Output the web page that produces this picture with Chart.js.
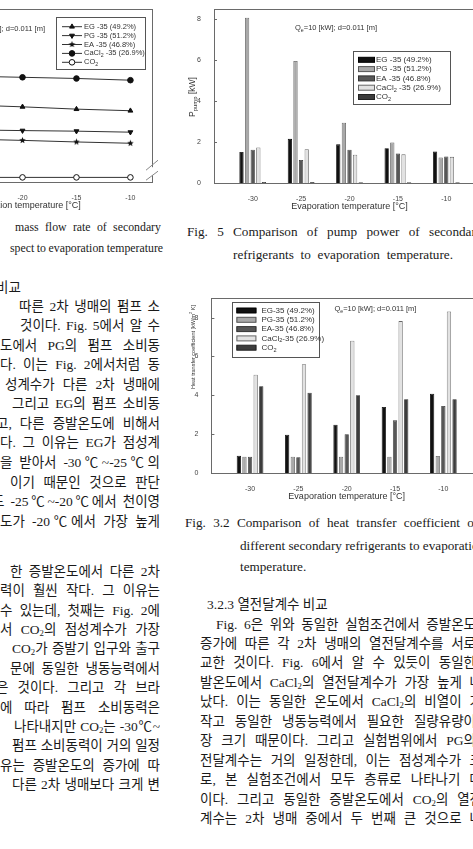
<!DOCTYPE html>
<html lang="ko">
<head>
  <meta charset="utf-8">
  <title>2차 냉매 비교</title>
  <script src="https://cdn.jsdelivr.net/npm/chart.js"></script>
  <style>
    html, body { margin: 0; padding: 0; background: #fff; }
    body {
      width: 473px; height: 849px; overflow: hidden; position: relative;
      font-family: "Liberation Serif", "Noto Sans CJK KR", serif; color: #1a1a1a;
    }
    .cv { position: absolute; }
    /* one printed line of the page */
    .ln {
      position: absolute; height: 18px; overflow: hidden;
      font-size: 13.5px; line-height: 18px;
      text-align: justify; text-align-last: justify; text-justify: inter-word;
    }
    .cap { position: absolute; white-space: nowrap; font-size: 13.2px; line-height: 18px; }
    sub { font-size: 0.65em; vertical-align: -0.2em; line-height: 0; }
  </style>
</head>
<body>

  <!-- charts -->
  <canvas id="massChart" class="cv" style="left:-170px; top:0px;"></canvas>
  <canvas id="pumpChart" class="cv" style="left:160px; top:0px;"></canvas>
  <canvas id="htcChart" class="cv" style="left:160px; top:289px;"></canvas>

  <!-- captions -->
  <div class="cap" style="left:15px; top:218px; font-size:11.8px; word-spacing:3.4px;">mass flow rate of secondary</div>
  <div class="cap" style="left:10px; top:239px; font-size:11.8px; word-spacing:-0.4px;">spect to evaporation temperature</div>
  <div class="cap" style="left:187px; top:223px; word-spacing:6px;">Fig. 5 Comparison of pump power of secondary</div>
  <div class="cap" style="left:233px; top:246px; word-spacing:3.5px;">refrigerants to evaporation temperature.</div>
  <div class="cap" style="left:185px; top:514px; word-spacing:4px;">Fig. 3.2 Comparison of heat transfer coefficient of</div>
  <div class="cap" style="left:240px; top:537px; word-spacing:0px;">different secondary refrigerants to evaporation</div>
  <div class="cap" style="left:240px; top:558px;">temperature.</div>

  <!-- left column -->
  <div class="ln" style="left:-4px; width:40px; top:279px; text-align-last:left;">비교</div>
  <div class="ln" style="left:19px; width:141px; top:298px;">따른 2차 냉매의 펌프 소</div>
  <div class="ln" style="left:20px; width:140px; top:317px;">것이다. Fig. 5에서 알 수</div>
  <div class="ln" style="left:0px; width:160px; top:337px;">도에서 PG의 펌프 소비동</div>
  <div class="ln" style="left:0px; width:160px; top:356px;">다. 이는 Fig. 2에서처럼 동</div>
  <div class="ln" style="left:5px; width:155px; top:376px;">성계수가 다른 2차 냉매에</div>
  <div class="ln" style="left:12px; width:148px; top:395px;">그리고 EG의 펌프 소비동</div>
  <div class="ln" style="left:-4px; width:164px; top:415px;">고, 다른 증발온도에 비해서</div>
  <div class="ln" style="left:0px; width:160px; top:434px;">다. 그 이유는 EG가 점성계</div>
  <div class="ln" style="left:0px; width:160px; top:454px;">을 받아서 -30℃~-25℃의</div>
  <div class="ln" style="left:10px; width:150px; top:474px;">이기 때문인 것으로 판단</div>
  <div class="ln" style="left:-8px; width:168px; top:493px;">도 -25℃~-20℃에서 천이영</div>
  <div class="ln" style="left:0px; width:160px; top:513px;">도가 -20℃에서 가장 높게</div>
  <div class="ln" style="left:10px; width:150px; top:563px;">한 증발온도에서 다른 2차</div>
  <div class="ln" style="left:0px; width:160px; top:582px;">력이 훨씬 작다. 그 이유는</div>
  <div class="ln" style="left:0px; width:160px; top:602px;">수 있는데, 첫째는 Fig. 2에</div>
  <div class="ln" style="left:0px; width:160px; top:621px;">서 CO<sub>2</sub>의 점성계수가 가장</div>
  <div class="ln" style="left:12px; width:148px; top:640px;">CO<sub>2</sub>가 증발기 입구와 출구</div>
  <div class="ln" style="left:10px; width:150px; top:660px;">문에 동일한 냉동능력에서</div>
  <div class="ln" style="left:-4px; width:164px; top:679px;">은 것이다. 그리고 각 브라</div>
  <div class="ln" style="left:0px; width:160px; top:699px;">에 따라 펌프 소비동력은</div>
  <div class="ln" style="left:14px; width:146px; top:718px;">나타내지만 CO<sub>2</sub>는 -30℃~</div>
  <div class="ln" style="left:12px; width:148px; top:737px;">펌프 소비동력이 거의 일정</div>
  <div class="ln" style="left:0px; width:160px; top:757px;">유는 증발온도의 증가에 따</div>
  <div class="ln" style="left:12px; width:148px; top:776px;">다른 2차 냉매보다 크게 변</div>

  <!-- right column -->
  <div class="ln" style="left:207px; width:200px; top:596px; text-align-last:left;">3.2.3 열전달계수 비교</div>
  <div class="ln" style="left:216px; width:260px; top:616px;">Fig. 6은 위와 동일한 실험조건에서 증발온도</div>
  <div class="ln" style="left:200px; width:276px; top:635px;">증가에 따른 각 2차 냉매의 열전달계수를 서로</div>
  <div class="ln" style="left:200px; width:276px; top:654px;">교한 것이다. Fig. 6에서 알 수 있듯이 동일한</div>
  <div class="ln" style="left:200px; width:282px; top:674px;">발온도에서 CaCl<sub>2</sub>의 열전달계수가 가장 높게 나</div>
  <div class="ln" style="left:200px; width:282px; top:693px;">났다. 이는 동일한 온도에서 CaCl<sub>2</sub>의 비열이 가</div>
  <div class="ln" style="left:200px; width:276px; top:713px;">작고 동일한 냉동능력에서 필요한 질량유량이</div>
  <div class="ln" style="left:200px; width:276px; top:732px;">장 크기 때문이다. 그리고 실험범위에서 PG의</div>
  <div class="ln" style="left:200px; width:282px; top:752px;">전달계수는 거의 일정한데, 이는 점성계수가 크</div>
  <div class="ln" style="left:200px; width:282px; top:771px;">로, 본 실험조건에서 모두 층류로 나타나기 때</div>
  <div class="ln" style="left:200px; width:282px; top:791px;">이다. 그리고 동일한 증발온도에서 CO<sub>2</sub>의 열전</div>
  <div class="ln" style="left:200px; width:282px; top:810px;">계수는 2차 냉매 중에서 두 번째 큰 것으로 나</div>

  <script>
    // ---- data ----
    const temps = [-30, -25, -20, -15, -10];
    const xTicks = [-30, -25, -20, -15, -10];

    // mass flow rate (left figure, only partly on the page)
    const massEG    = [0.550, 0.535, 0.522, 0.506, 0.495];
    const massPG    = [0.366, 0.362, 0.357, 0.353, 0.346];
    const massEA    = [0.306, 0.298, 0.289, 0.278, 0.269];
    const massCaCl2 = [0.742, 0.735, 0.727, 0.719, 0.707];
    const massCO2   = [0.032, 0.032, 0.032, 0.032, 0.032];

    // Fig. 5 pump power [kW]
    const pumpTicks = [0, 2, 4, 6, 8];
    const pumpEG    = [1.52, 2.16, 1.89, 1.70, 1.54];
    const pumpPG    = [8.08, 5.97, 2.95, 1.98, 1.25];
    const pumpEA    = [1.63, 1.13, 1.63, 1.44, 1.30];
    const pumpCaCl2 = [1.74, 1.65, 1.38, 1.40, 1.28];
    const pumpCO2   = [0.05, 0.05, 0.04, 0.04, 0.04];

    // Fig. 3.2 heat transfer coefficient [kW/m2 K]
    const htcTicks = [0, 2, 4, 6, 8];
    const htcEG    = [0.89, 1.97, 2.49, 3.40, 4.08];
    const htcPG    = [0.84, 0.84, 0.84, 0.84, 0.88];
    const htcEA    = [0.84, 0.81, 2.00, 2.71, 3.45];
    const htcCaCl2 = [5.06, 5.60, 6.81, 7.82, 8.32];
    const htcCO2   = [4.47, 4.13, 4.00, 3.80, 3.80];

    // legend labels (_{..} = subscript, ^{..} = superscript)
    const labelsA = ['EG -35 (49.2%)', 'PG -35 (51.2%)', 'EA -35 (46.8%)', 'CaCl_{2} -35 (26.9%)', 'CO_{2}'];
    const labelsC = ['EG-35 (49.2%)', 'PG-35 (51.2%)', 'EA-35 (46.8%)', 'CaCl_{2}-35 (26.9%)', 'CO_{2}'];
    const noteText = 'Q_{e}=10 [kW]; d=0.011 [m]';

    const SANS = '"Liberation Sans", Arial, sans-serif';
    const pts = vals => temps.map((t, i) => ({ x: t, y: vals[i] }));

    // split "CaCl_{2}" into drawable pieces
    function parseRich(s) {
      const out = []; const re = /([_^])\{([^}]*)\}/g; let last = 0, m;
      while ((m = re.exec(s))) {
        if (m.index > last) out.push([s.slice(last, m.index), null]);
        out.push([m[2], m[1] === '_' ? 'sub' : 'sup']);
        last = re.lastIndex;
      }
      if (last < s.length) out.push([s.slice(last), null]);
      return out;
    }
    function richWidth(ctx, s, size) {
      let w = 0;
      for (const [t, mode] of parseRich(s)) {
        ctx.font = (mode ? size * 0.7 : size) + 'px ' + SANS;
        w += ctx.measureText(t).width;
      }
      return w;
    }
    function richText(ctx, s, x, y, size) {
      let cx = x;
      ctx.textBaseline = 'middle'; ctx.textAlign = 'left';
      for (const [t, mode] of parseRich(s)) {
        ctx.font = (mode ? size * 0.7 : size) + 'px ' + SANS;
        const dy = mode === 'sub' ? size * 0.3 : mode === 'sup' ? -size * 0.35 : 0;
        ctx.fillText(t, cx, y + dy);
        cx += ctx.measureText(t).width;
      }
    }

    // small filled star used as a point marker
    function starImage(r) {
      const c = document.createElement('canvas');
      const s = Math.ceil(r * 2 + 2); c.width = s; c.height = s;
      const g = c.getContext('2d');
      g.fillStyle = '#111'; g.beginPath();
      for (let i = 0; i < 10; i++) {
        const rr = i % 2 ? r * 0.45 : r, ang = -Math.PI / 2 + i * Math.PI / 5;
        g.lineTo(s / 2 + rr * Math.cos(ang), s / 2 + rr * Math.sin(ang));
      }
      g.closePath(); g.fill();
      return c;
    }

    // frame, inner ticks, boxed legend, note and y title
    const paperPlugin = {
      id: 'paper',
      afterDatasetsDraw(chart, args, o) {
        const { ctx, chartArea: a } = chart;
        ctx.save();
        ctx.strokeStyle = '#6a6a6a'; ctx.lineWidth = 1;
        ctx.strokeRect(Math.round(a.left) + 0.5, Math.round(a.top) + 0.5, Math.round(a.width), Math.round(a.height));

        if (o.innerTicks) {
          chart.scales.y.ticks.forEach(t => {
            const py = Math.round(chart.scales.y.getPixelForValue(t.value)) + 0.5;
            ctx.beginPath(); ctx.moveTo(a.left, py); ctx.lineTo(a.left + 3, py); ctx.stroke();
          });
        }

        if (o.axisBreak) {
          const bx = a.right, by = a.top + o.axisBreak;
          ctx.fillStyle = '#fff'; ctx.fillRect(bx - 2, by - 4, 4, 8);
          ctx.strokeStyle = '#888';
          ctx.beginPath(); ctx.moveTo(bx - 6, by - 1); ctx.lineTo(bx + 6, by - 11); ctx.stroke();
          ctx.beginPath(); ctx.moveTo(bx - 6, by + 9); ctx.lineTo(bx + 6, by - 0); ctx.stroke();
        }

        ctx.fillStyle = '#333';
        if (o.note) richText(ctx, noteText, a.left + o.note.x, a.top + o.note.y, 7.5);

        if (o.box) {
          const b = o.box, bx = a.left + b.x, by = a.top + b.y;
          ctx.fillStyle = '#fff'; ctx.fillRect(bx, by, b.w, b.h);
          ctx.strokeStyle = '#555'; ctx.strokeRect(Math.round(bx) + 0.5, Math.round(by) + 0.5, b.w, b.h);
          chart.data.datasets.forEach((ds, i) => {
            const ry = by + b.first + i * b.row;
            if (b.kind === 'line') {
              ctx.strokeStyle = '#333'; ctx.lineWidth = 1;
              ctx.beginPath(); ctx.moveTo(bx + b.sx, ry); ctx.lineTo(bx + b.sx + b.sw, ry); ctx.stroke();
              ctx.fillStyle = ds.pointBackgroundColor; ctx.strokeStyle = ds.pointBorderColor;
              Chart.helpers.drawPoint(ctx, { pointStyle: ds.pointStyle, rotation: ds.pointRotation || 0,
                radius: ds.pointRadius, borderWidth: 1 }, bx + b.sx + b.sw / 2, ry);
            } else {
              ctx.fillStyle = ds.backgroundColor; ctx.strokeStyle = ds.borderColor; ctx.lineWidth = 1;
              ctx.fillRect(bx + b.sx, ry - 2.5, b.sw, 5);
              ctx.strokeRect(bx + b.sx + 0.5, ry - 2.5, b.sw - 1, 5);
            }
            ctx.fillStyle = '#333';
            richText(ctx, ds.label, bx + b.tx, ry, b.size);
          });
        }

        if (o.yTitle) {
          const w = richWidth(ctx, o.yTitle.text, o.yTitle.size);
          ctx.translate(o.yTitle.x, o.yTitle.y);
          ctx.rotate(-Math.PI / 2);
          ctx.fillStyle = '#333';
          richText(ctx, o.yTitle.text, -w / 2, 0, o.yTitle.size);
        }
        ctx.restore();
      }
    };

    // fixed axis sizes so the plot boxes land where the page has them
    const fitW = w => s => { s.width = w; };
    const fitH = h => s => { s.height = h; };
    const setTicks = arr => s => { s.ticks = arr.map(v => ({ value: v })); };

    function xScale(min, max, h, titlePad) {
      return {
        type: 'linear', min: min, max: max, offset: false,
        grid: { display: false }, border: { display: false },
        afterBuildTicks: setTicks(xTicks), afterFit: fitH(h),
        ticks: { font: { family: SANS, size: 7 }, color: '#444', padding: 4, maxRotation: 0 },
        title: { display: true, text: 'Evaporation temperature [°C]', color: '#333',
                 font: { family: SANS, size: 9 }, padding: { top: 0, bottom: titlePad } }
      };
    }
    function yScale(max, ticks, w) {
      return {
        min: 0, max: max,
        grid: { display: false }, border: { display: false },
        afterBuildTicks: setTicks(ticks), afterFit: fitW(w),
        ticks: { font: { family: SANS, size: 7 }, color: '#444', padding: 5 }
      };
    }

    Chart.defaults.animation = false;
    Chart.defaults.responsive = false;
    Chart.defaults.plugins.legend.display = false;
    Chart.defaults.plugins.tooltip.enabled = false;

    // --- left figure: mass flow rate ---
    function lineSet(label, vals, style, rot, fill) {
      return { label: label, data: pts(vals), borderColor: '#333', borderWidth: 1,
               pointStyle: style, pointRotation: rot, pointRadius: 2.8,
               pointBackgroundColor: fill, pointBorderColor: '#111', pointBorderWidth: 1 };
    }
    const star = starImage(3.4);
    const massCv = document.getElementById('massChart');
    massCv.width = 332; massCv.height = 218;
    new Chart(massCv, {
      type: 'line',
      data: {
        datasets: [
          lineSet(labelsA[0], massEG, 'triangle', 0, '#111'),
          lineSet(labelsA[1], massPG, 'triangle', 180, '#111'),
          lineSet(labelsA[2], massEA, star, 0, '#111'),
          lineSet(labelsA[3], massCaCl2, 'circle', 0, '#111'),
          lineSet(labelsA[4], massCO2, 'circle', 0, '#fff')
        ]
      },
      options: {
        layout: { padding: { top: 5, right: 10, left: 0, bottom: 0 } },
        scales: { x: xScale(-32, -8, 36, 7), y: yScale(1.2, [0, 0.2, 0.4, 0.6, 0.8, 1.0], 63) },
        plugins: {
          paper: {
            axisBreak: 162,
            note: { x: 70, y: 20 },
            box: { kind: 'line', x: 163, y: 8, w: 89, h: 52, first: 9.5, row: 8.9, sx: 6, sw: 20, tx: 28, size: 7.5 }
          }
        }
      },
      plugins: [paperPlugin]
    });

    // --- bar figures ---
    const barColors = [
      { bg: '#111111', bd: '#000000' },
      { bg: '#a9a9a9', bd: '#555555' },
      { bg: '#575757', bd: '#333333' },
      { bg: '#e2e2e2', bd: '#666666' },
      { bg: '#3c3c3c', bd: '#222222' }
    ];
    function barSets(labels, series) {
      return series.map((vals, i) => ({
        label: labels[i], data: pts(vals),
        backgroundColor: barColors[i].bg, borderColor: barColors[i].bd, borderWidth: 0.8,
        categoryPercentage: 0.58, barPercentage: 0.76
      }));
    }

    const pumpCv = document.getElementById('pumpChart');
    pumpCv.width = 330; pumpCv.height = 217;
    new Chart(pumpCv, {
      type: 'bar',
      data: { datasets: barSets(labelsA, [pumpEG, pumpPG, pumpEA, pumpCaCl2, pumpCO2]) },
      options: {
        layout: { padding: { top: 4, right: 5, left: 0, bottom: 0 } },
        scales: { x: xScale(-34, -6, 34, 5), y: yScale(8.5, pumpTicks, 54) },
        plugins: {
          paper: {
            innerTicks: true,
            note: { x: 81, y: 19 },
            box: { kind: 'bar', x: 139, y: 42, w: 97, h: 53, first: 8.6, row: 9.3, sx: 5, sw: 17, tx: 23, size: 8 },
            yTitle: { text: 'P_{pump} [kW]', x: 33, y: 97, size: 8.5 }
          }
        }
      },
      plugins: [paperPlugin]
    });

    const htcCv = document.getElementById('htcChart');
    htcCv.width = 327; htcCv.height = 218;
    new Chart(htcCv, {
      type: 'bar',
      data: { datasets: barSets(labelsC, [htcEG, htcPG, htcEA, htcCaCl2, htcCO2]) },
      options: {
        layout: { padding: { top: 4, right: 5, left: 0, bottom: 0 } },
        scales: { x: xScale(-34, -6, 34, 5), y: yScale(9, htcTicks, 51.4) },
        plugins: {
          paper: {
            innerTicks: true,
            note: { x: 123, y: 11 },
            box: { kind: 'bar', x: 21, y: 4, w: 87, h: 55, first: 8.3, row: 9.3, sx: 4, sw: 20, tx: 29, size: 8 },
            yTitle: { text: 'Heat transfer coefficient [kW/m^{2} K]', x: 33, y: 58, size: 5.5 }
          }
        }
      },
      plugins: [paperPlugin]
    });
  </script>

</body>
</html>
